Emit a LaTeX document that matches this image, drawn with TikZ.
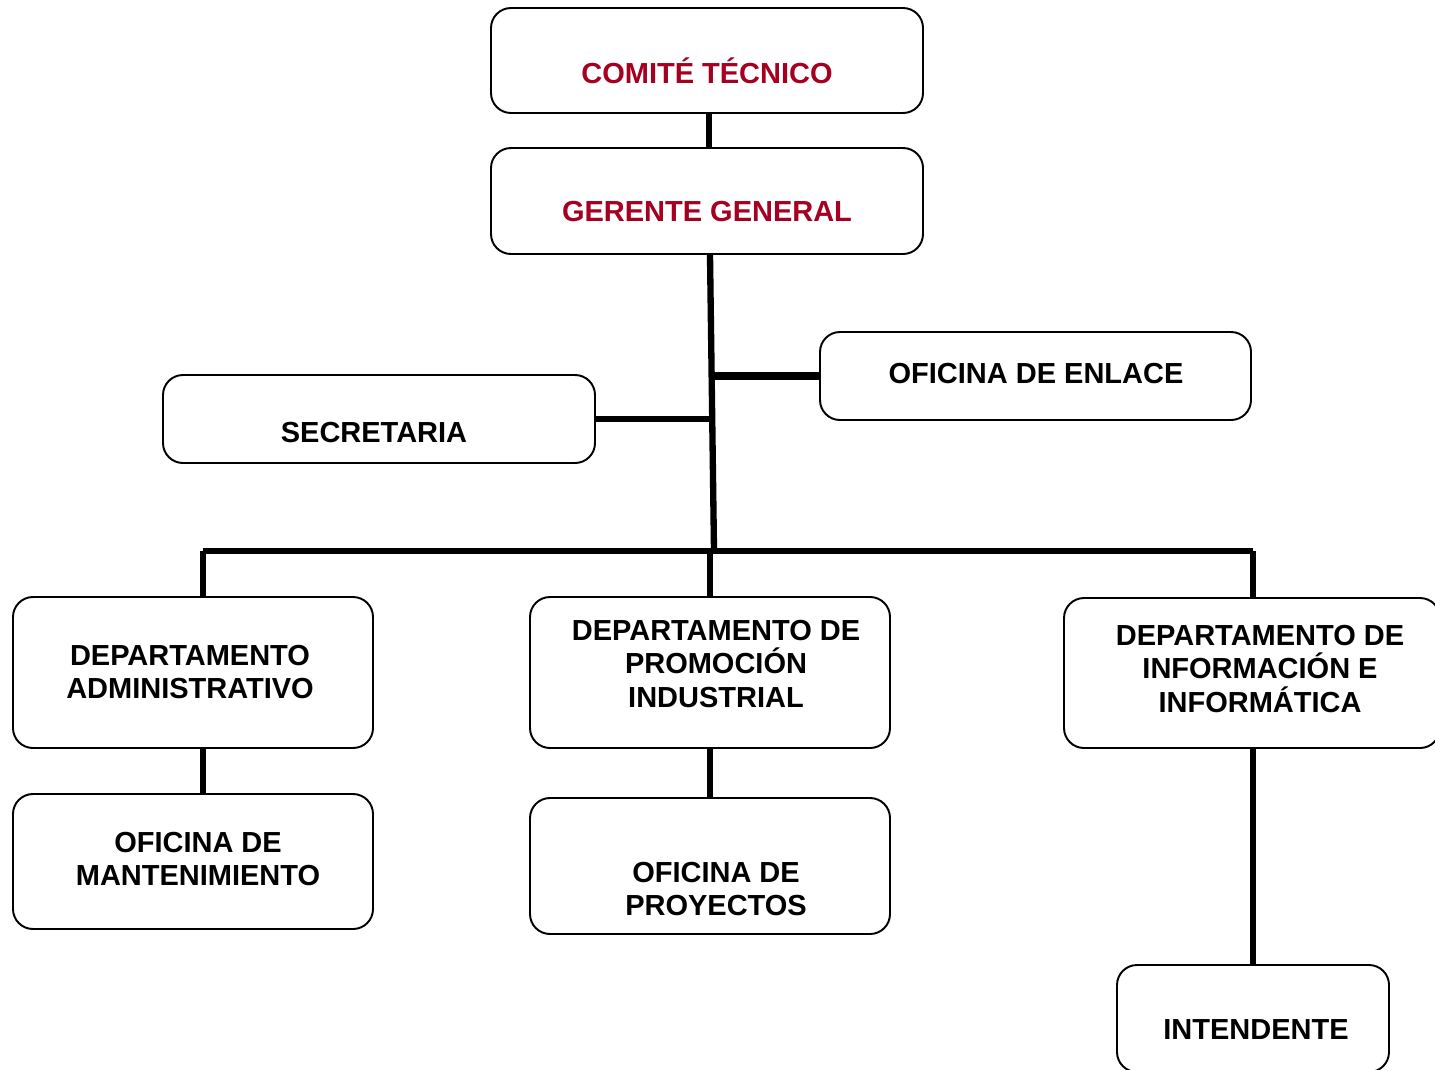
\documentclass[tikz,border=0pt]{standalone}
\usepackage{fontspec}
\setmainfont{Liberation Sans}
\definecolor{darkred}{RGB}{165,0,33}

\begin{document}
\begin{tikzpicture}[x=0.02cm, y=-0.02cm]
    \tikzstyle{box}=[draw=black, line width=1.1pt, rounded corners=0.4cm, fill=white]
    \tikzstyle{txt}=[align=center, font=\fontsize{16.5}{19}\selectfont\bfseries, inner sep=0pt]
    \tikzstyle{red txt}=[txt, text=darkred]
    \tikzstyle{link}=[line width=3.6pt]
    \useasboundingbox (0,0) rectangle (1435,1069);
    % top of the chart
    \node[box, minimum width=432*0.02cm, minimum height=105*0.02cm] (comite) at (707,60.5) {};
    \node[red txt] (comite-t) at (707,71) {COMITÉ TÉCNICO};
    \node[box, minimum width=432*0.02cm, minimum height=106*0.02cm] (gerente) at (707,201) {};
    \node[red txt] (gerente-t) at (707,212) {GERENTE GENERAL};
    % staff boxes
    \node[box, minimum width=431*0.02cm, minimum height=88*0.02cm] (enlace) at (1035.5,376) {};
    \node[txt] (enlace-t) at (1036,374) {OFICINA DE ENLACE};
    \node[box, minimum width=432*0.02cm, minimum height=88*0.02cm] (secretaria) at (379,419) {};
    \node[txt] (secretaria-t) at (374,433) {SECRETARIA};
    % departments
    \node[box, minimum width=360*0.02cm, minimum height=151*0.02cm] (admin) at (193,672.5) {};
    \node[txt] (admin-t) at (190,672) {DEPARTAMENTO\\ADMINISTRATIVO};
    \node[box, minimum width=360*0.02cm, minimum height=151*0.02cm] (promo) at (710,672.5) {};
    \node[txt] (promo-t) at (716,664) {DEPARTAMENTO DE\\PROMOCIÓN\\INDUSTRIAL};
    \node[box, minimum width=376*0.02cm, minimum height=150*0.02cm] (info) at (1252,673) {};
    \node[txt] (info-t) at (1260,669) {DEPARTAMENTO DE\\INFORMACIÓN E\\INFORMÁTICA};
    % offices under the departments
    \node[box, minimum width=360*0.02cm, minimum height=135*0.02cm] (mant) at (193,861.5) {};
    \node[txt] (mant-t) at (198,859) {OFICINA DE\\MANTENIMIENTO};
    \node[box, minimum width=360*0.02cm, minimum height=136*0.02cm] (proy) at (710,866) {};
    \node[txt] (proy-t) at (716,889) {OFICINA DE\\PROYECTOS};
    \node[box, minimum width=272*0.02cm, minimum height=107*0.02cm] (intend) at (1253,1018.5) {};
    \node[txt] (intend-t) at (1256,1030) {INTENDENTE};
    % connectors
    \coordinate (hub) at (714,551);
    \coordinate (busL) at (203,551);
    \coordinate (busR) at (1253,551);
    \draw[link] (comite.south) ++(2,0) -- ++(0,35);
    \draw[link] (gerente.south) ++(3,0) -- (hub);
    \draw[link, line width=4.4pt] (enlace.west -| gerente.south) ++(3,0) -- (enlace.west);
    \draw[link] (secretaria.east) -- ++(113,0);
    \draw[link] (busL) -- (busR);
    \draw[link] (busL) -- (busL |- admin.north);
    \draw[link] (promo.north |- hub) -- (promo.north);
    \draw[link] (busR) -- (busR |- info.north);
    \draw[link] (busL |- admin.south) -- (busL |- mant.north);
    \draw[link] (promo.south) -- (proy.north);
    \draw[link] (intend.north |- info.south) -- (intend.north);
\end{tikzpicture}
\end{document}
